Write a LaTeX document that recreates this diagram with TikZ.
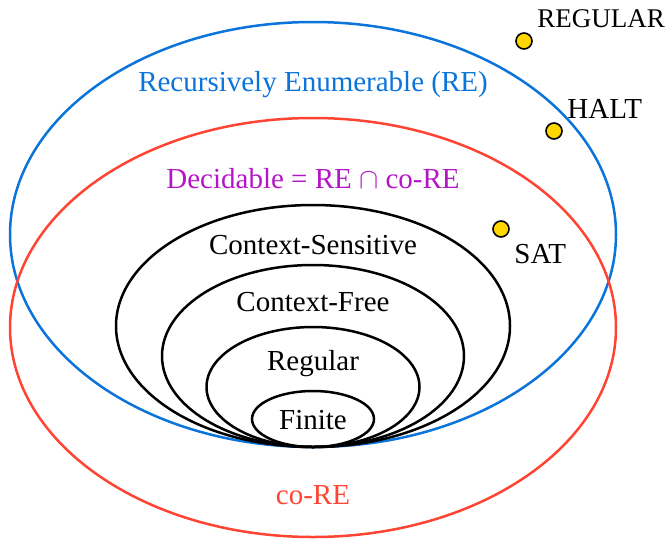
\documentclass[tikz,border=0pt]{standalone}
\usepackage{fontspec}
\setmainfont{Liberation Serif}
\usetikzlibrary{shapes.geometric}
\definecolor{reblue}{HTML}{0A74DA}
\definecolor{cored}{HTML}{FF4433}
\definecolor{decpurple}{HTML}{B515C8}
\definecolor{dotgold}{HTML}{FFD700}
\begin{document}
\begin{tikzpicture}[x=0.5pt,y=-0.5pt,
  setell/.style={ellipse,draw,line width=1.25pt,inner sep=0pt,fill=none},
  lbl/.style={font=\fontsize{14.5}{16}\selectfont,inner sep=0pt},
  dot/.style={circle,draw=black,line width=0.8pt,fill=dotgold,minimum size=8pt,inner sep=0pt}]
\useasboundingbox (0,0) rectangle (669,541);
% outer sets
\node[setell,draw=reblue,minimum width=303pt,minimum height=212.5pt] (re) at (313,234.5) {};
\node[setell,draw=cored,minimum width=303pt,minimum height=209.5pt] (core) at (313,327.5) {};
% nested languages
\node[setell,minimum width=197pt,minimum height=121pt] (cs) at (313,326) {};
\node[setell,minimum width=151pt,minimum height=91pt] (cf) at (313,356) {};
\node[setell,minimum width=106.5pt,minimum height=60pt] (reg) at (313,387) {};
\node[setell,minimum width=61pt,minimum height=28pt] (fin) at (313,419) {};
% labels
\node[lbl,text=reblue] (tre) at (313,85) {Recursively Enumerable (RE)};
\node[lbl,text=decpurple] (tdec) at (313,179) {Decidable = RE $\cap$ co-RE};
\node[lbl] (tcs) at (313,245) {Context-Sensitive};
\node[lbl] (tcf) at (313,302) {Context-Free};
\node[lbl] (treg) at (313,364) {Regular};
\node[lbl] (tfin) at (313,420) {Finite};
\node[lbl,text=cored] (tcore) at (313,495) {co-RE};
% problems
\node[dot] (dreg) at (524,41) {};
\node[lbl,anchor=west,font=\fontsize{13.5}{15}\selectfont] (lreg) at (537,19) {REGULAR};
\node[dot] (dhalt) at (554,131) {};
\node[lbl,anchor=west] (lhalt) at (567,109) {HALT};
\node[dot] (dsat) at (501,229) {};
\node[lbl,anchor=west] (lsat) at (514,254) {SAT};
\end{tikzpicture}
\end{document}
